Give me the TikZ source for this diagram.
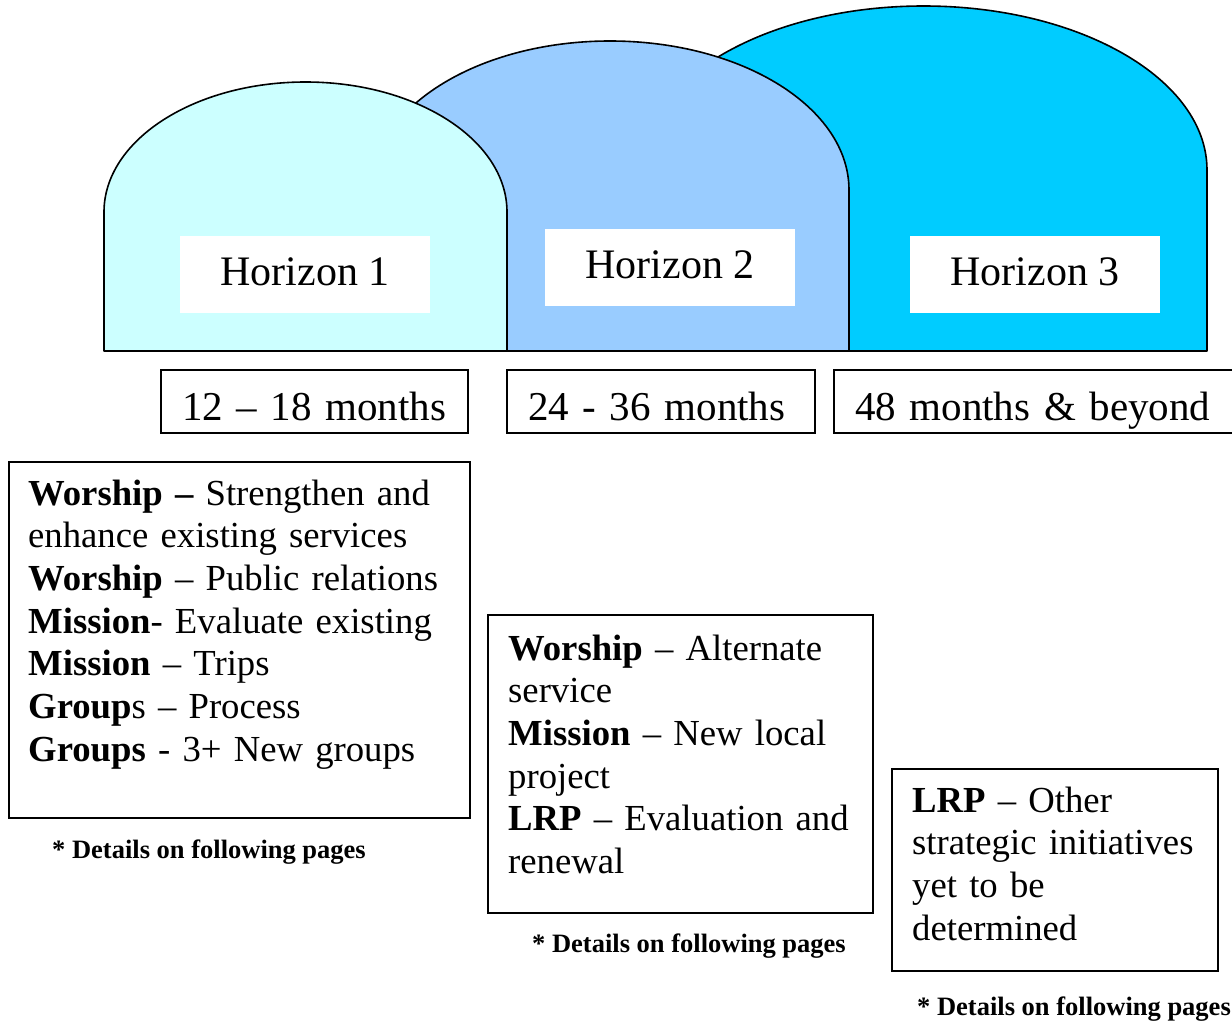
\documentclass[tikz,border=0pt]{standalone}
\usepackage{fontspec}
\setmainfont{Liberation Serif}
\definecolor{hone}{HTML}{CCFFFF}
\definecolor{htwo}{HTML}{99CCFF}
\definecolor{hthree}{HTML}{00CCFF}
\begin{document}
\begin{tikzpicture}[x=1pt,y=1pt,
  arch/.style={draw=black, line width=1.6pt, line join=round},
  hlabel/.style={fill=white, inner sep=0pt, minimum width=250pt, minimum height=77pt,
    text height=29.4pt, text depth=8.4pt, font=\fontsize{42}{48}\selectfont},
  monthbox/.style={draw=black, line width=1.6pt, fill=white, inner xsep=21pt, inner ysep=0pt,
    minimum height=63pt, text height=37pt, text depth=0pt, align=left,
    font=\fontsize{41}{48}\selectfont},
  framebox/.style={draw=black, line width=1.6pt, inner sep=0pt, anchor=north west},
  bodytext/.style={inner sep=0pt, anchor=north west, align=left,
    font=\fontsize{36.7}{42.7}\selectfont},
  note/.style={inner sep=0pt, anchor=base west, font=\fontsize{26.5}{30}\selectfont\bfseries}]
\useasboundingbox (0,0) rectangle (1232,-1028);

% arches (back to front)
\path[arch, fill=hthree] (640,-351) -- (640,-170)
  arc[start angle=180, end angle=0, x radius=283.5, y radius=164] -- (1207,-351) -- cycle;
\path[arch, fill=htwo] (371,-351) -- (371,-190)
  arc[start angle=180, end angle=0, x radius=239, y radius=149] -- (849,-351) -- cycle;
\path[arch, fill=hone] (104,-351) -- (104,-212)
  arc[start angle=180, end angle=0, x radius=201.5, y radius=130] -- (507,-351) -- cycle;

% horizon labels
\node[hlabel] (h1) at (305,-274.5) {Horizon 1};
\node[hlabel] (h2) at (670,-267.5) {Horizon 2};
\node[hlabel] (h3) at (1035,-274.5) {Horizon 3};

% month boxes
\node[monthbox, text width=265pt] (m1) at (314.5,-401.5) {\mbox{12 – 18 months}};
\node[monthbox, text width=266pt] (m2) at (661,-401.5) {\mbox{24 - 36 months}};
\node[monthbox, text width=365pt] (m3) at (1037.5,-401.5) {\mbox{48 months \& beyond}};

% initiative boxes
\node[framebox, minimum width=461pt, minimum height=356pt] (f1) at (8,-461) {};
\node[bodytext, text width=440pt] (t1) at (28,-475.1)
  {\strut\textbf{Worship –} Strengthen and\\
   enhance existing services\\
   \textbf{Worship} – Public relations\\
   \textbf{Mission}- Evaluate existing\\
   \textbf{Mission} – Trips\\
   \textbf{Group}s – Process\\
   \textbf{Groups} - 3+ New groups};

\node[framebox, minimum width=385pt, minimum height=298pt] (f2) at (487,-614) {};
\node[bodytext, text width=360pt] (t2) at (508,-630.1)
  {\strut\textbf{Worship} – Alternate\\
   service\\
   \textbf{Mission} – New local\\
   project\\
   \textbf{LRP} – Evaluation and\\
   renewal};

\node[framebox, minimum width=326pt, minimum height=202pt] (f3) at (891,-768) {};
\node[bodytext, text width=300pt] (t3) at (912,-782.1)
  {\strut\textbf{LRP} – Other\\
   strategic initiatives\\
   yet to be\\
   determined};

% notes
\node[note] (n1) at (52,-858) {* Details on following pages};
\node[note] (n2) at (532,-952) {* Details on following pages};
\node[note] (n3) at (917,-1015) {* Details on following pages};
\end{tikzpicture}
\end{document}
